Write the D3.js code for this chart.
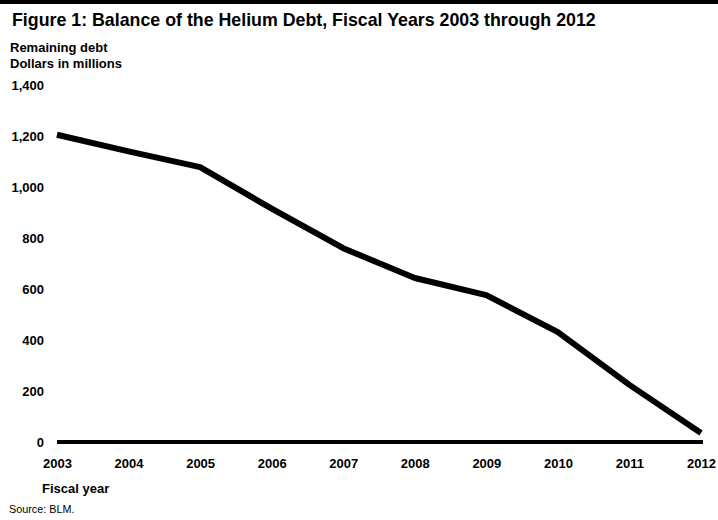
<!DOCTYPE html>
<html>
<head>
<meta charset="utf-8">
<script src="https://cdn.jsdelivr.net/npm/d3@7"></script>
<style>
  body { margin: 0; background: #fff; }
  svg { display: block; font-family: "Liberation Sans", Arial, sans-serif; }
  .tick text { font-weight: bold; fill: #000; }
</style>
</head>
<body>
<div id="chart"></div>
<script>
// Chart data
const years = ["2003", "2004", "2005", "2006", "2007", "2008", "2009", "2010", "2011", "2012"];
const debt = [1205, 1140, 1078, 915, 760, 643, 576, 431, 224, 35];
const yTicks = [0, 200, 400, 600, 800, 1000, 1200, 1400];

const width = 718;
const height = 520;

const svg = d3.select("#chart")
    .append("svg")
    .attr("width", width)
    .attr("height", height);

// Thick rule across the top
svg.append("rect")
    .attr("x", 0)
    .attr("y", 0)
    .attr("width", width)
    .attr("height", 4)
    .attr("fill", "#000");

// Title
svg.append("text")
    .attr("x", 12)
    .attr("y", 26)
    .style("font-size", "17.8px")
    .style("font-weight", "bold")
    .text("Figure 1: Balance of the Helium Debt, Fiscal Years 2003 through 2012");

// Y axis title (two lines)
svg.append("text")
    .attr("x", 10)
    .attr("y", 52)
    .style("font-size", "13px")
    .style("font-weight", "bold")
    .text("Remaining debt");
svg.append("text")
    .attr("x", 10)
    .attr("y", 68)
    .style("font-size", "13px")
    .style("font-weight", "bold")
    .text("Dollars in millions");

// Scales
const x = d3.scalePoint()
    .domain(years)
    .range([57, 701]);

const y = d3.scaleLinear()
    .domain([0, 1400])
    .range([442, 85]);

// Y axis (labels only)
const yAxis = svg.append("g")
    .attr("transform", "translate(44,0)")
    .call(d3.axisLeft(y).tickValues(yTicks).tickSize(0).tickPadding(0).tickFormat(d3.format(",")));
yAxis.select(".domain").remove();
yAxis.selectAll("text").style("font-size", "13px");

// X axis (labels only)
const xAxis = svg.append("g")
    .attr("transform", "translate(0,442)")
    .call(d3.axisBottom(x).tickSize(0).tickPadding(17));
xAxis.select(".domain").remove();
xAxis.selectAll("text").style("font-size", "13px");

// Zero baseline
svg.append("line")
    .attr("x1", x(years[0]))
    .attr("x2", x(years[years.length - 1]) + 2)
    .attr("y1", y(0))
    .attr("y2", y(0))
    .attr("stroke", "#000")
    .attr("stroke-width", 4);

// Debt line
const line = d3.line()
    .x((d, i) => x(years[i]))
    .y(d => y(d));

svg.append("path")
    .datum(debt)
    .attr("d", line)
    .attr("fill", "none")
    .attr("stroke", "#000")
    .attr("stroke-width", 6)
    .attr("stroke-linejoin", "round");

// X axis title
svg.append("text")
    .attr("x", 42)
    .attr("y", 493)
    .style("font-size", "13px")
    .style("font-weight", "bold")
    .text("Fiscal year");

// Source note
svg.append("text")
    .attr("x", 9)
    .attr("y", 513)
    .style("font-size", "10.8px")
    .text("Source: BLM.");
</script>
</body>
</html>
